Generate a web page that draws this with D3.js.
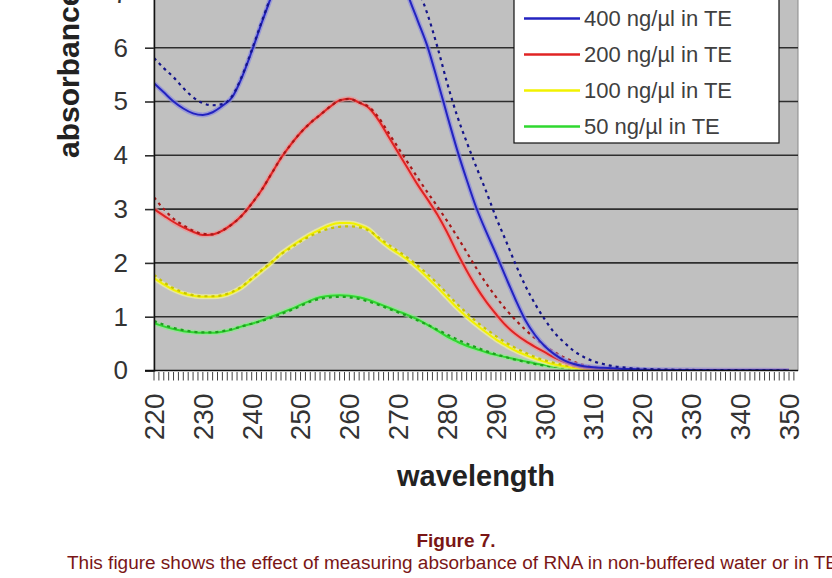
<!DOCTYPE html>
<html>
<head>
<meta charset="utf-8">
<script src="https://cdn.jsdelivr.net/npm/d3@7"></script>
<style>
  body { margin: 0; background: #fff; }
  svg { display: block; font-family: "Liberation Sans", Arial, sans-serif; }
</style>
</head>
<body>
<svg id="chart" width="832" height="578"></svg>
<script>
// wavelength (nm) and absorbance
var wavelength = [220,222,224,226,228,230,232,234,236,238,
    240,242,244,246,248,250,252,254,256,258,
    260,262,264,266,268,270,272,274,276,278,
    280,282,284,286,288,290,292,294,296,298,
    300,302,304,306,308,310,312,314,316,318,
    320,330,340,350];

var te400 = [5.34,5.17,5.0,4.87,4.78,4.75,4.8,4.92,5.08,5.45,
    5.93,6.45,6.95,7.45,7.95,8.45,8.92,9.35,9.7,9.95,
    10.05,9.75,9.35,8.85,8.25,7.6,6.98,6.5,6.02,5.4,
    4.75,4.12,3.55,3.02,2.58,2.17,1.74,1.32,0.94,0.66,
    0.45,0.3,0.19,0.12,0.08,0.06,0.05,0.04,0.03,0.03,
    0.02,0.01,0.005,0];
var water400 = [5.81,5.62,5.45,5.25,5.08,4.97,4.93,4.95,5.1,5.47,
    5.95,6.47,6.97,7.47,7.97,8.47,8.95,9.4,9.8,10.05,
    10.15,9.95,9.65,9.2,8.65,8.05,7.5,7.1,6.62,6.02,
    5.35,4.75,4.25,3.78,3.33,2.85,2.42,1.98,1.58,1.24,
    0.95,0.7,0.52,0.36,0.25,0.17,0.12,0.08,0.06,0.04,
    0.03,0.01,0.005,0];
var te200 = [3.0,2.88,2.76,2.66,2.58,2.52,2.53,2.6,2.72,2.88,
    3.1,3.35,3.65,3.95,4.2,4.42,4.6,4.75,4.9,5.02,
    5.05,4.98,4.88,4.65,4.35,4.05,3.75,3.45,3.18,2.9,
    2.57,2.2,1.86,1.55,1.28,1.05,0.84,0.68,0.55,0.44,
    0.34,0.24,0.16,0.1,0.06,0.04,0.03,0.02,0.01,0.01,
    0,0,0,0];
var water200 = [3.22,3.0,2.82,2.7,2.6,2.54,2.53,2.6,2.72,2.88,
    3.1,3.35,3.65,3.95,4.2,4.42,4.6,4.75,4.9,5.02,
    5.05,4.98,4.9,4.7,4.42,4.14,3.86,3.58,3.31,3.05,
    2.78,2.5,2.2,1.9,1.62,1.37,1.14,0.94,0.76,0.6,
    0.46,0.34,0.24,0.16,0.1,0.06,0.04,0.03,0.02,0.01,
    0.01,0,0,0];
var te100 = [1.72,1.6,1.5,1.43,1.39,1.37,1.37,1.39,1.45,1.55,
    1.7,1.85,2.0,2.17,2.3,2.42,2.53,2.62,2.7,2.74,
    2.74,2.7,2.62,2.45,2.3,2.18,2.05,1.9,1.73,1.55,
    1.36,1.17,1.0,0.85,0.71,0.58,0.47,0.37,0.29,0.22,
    0.16,0.11,0.08,0.05,0.03,0.02,0.01,0.01,0,0,
    0,0,0,0];
var water100 = [1.78,1.64,1.53,1.45,1.4,1.38,1.38,1.4,1.46,1.56,
    1.71,1.86,2.01,2.16,2.28,2.4,2.5,2.58,2.64,2.67,
    2.68,2.66,2.6,2.47,2.34,2.22,2.09,1.95,1.79,1.62,
    1.43,1.24,1.07,0.91,0.77,0.64,0.52,0.42,0.33,0.25,
    0.19,0.14,0.1,0.07,0.05,0.03,0.02,0.01,0.01,0,
    0,0,0,0];
var te50 = [0.88,0.82,0.77,0.73,0.71,0.7,0.7,0.72,0.76,0.82,
    0.87,0.93,1.0,1.07,1.14,1.22,1.3,1.36,1.39,1.4,
    1.39,1.36,1.31,1.24,1.17,1.1,1.03,0.95,0.85,0.74,
    0.63,0.54,0.46,0.4,0.34,0.29,0.25,0.21,0.17,0.13,
    0.1,0.07,0.05,0.03,0.02,0.01,0.01,0,0,0,
    0,0,0,0];
var water50 = [0.92,0.85,0.79,0.75,0.72,0.71,0.71,0.73,0.77,0.82,
    0.87,0.92,0.98,1.05,1.12,1.2,1.28,1.33,1.36,1.37,
    1.36,1.33,1.28,1.22,1.15,1.08,1.01,0.93,0.85,0.76,
    0.67,0.58,0.5,0.43,0.36,0.3,0.25,0.2,0.16,0.12,
    0.09,0.07,0.05,0.03,0.02,0.01,0.01,0,0,0,
    0,0,0,0];

var legendLabels = ["400 ng/\u00b5l in TE", "200 ng/\u00b5l in TE", "100 ng/\u00b5l in TE", "50 ng/\u00b5l in TE"];
var xTickLabels = [220,230,240,250,260,270,280,290,300,310,320,330,340,350];
var yTickLabels = [0,1,2,3,4,5,6,7];

var series = [
    {name: legendLabels[3], te: te50,  water: water50,  color: "#2fd82f", halo: "#8ee88e", dark: "#1f9f1f"},
    {name: legendLabels[2], te: te100, water: water100, color: "#f2f200", halo: "#f6f690", dark: "#c8c400"},
    {name: legendLabels[1], te: te200, water: water200, color: "#e02424", halo: "#f09090", dark: "#a81818"},
    {name: legendLabels[0], te: te400, water: water400, color: "#2323c0", halo: "#8a8ae0", dark: "#15158a"}
];

var plotLeft = 154, plotRight = 798;

var x = d3.scaleLinear()
    .domain([220, 350])
    .range([154, 789]);
var y = d3.scaleLinear()
    .domain([0, 12])
    .range([370.5, 370.5 - 12 * 53.8]);

var svg = d3.select("#chart");

// plot area
svg.append("rect")
    .attr("x", plotLeft)
    .attr("y", y(12))
    .attr("width", plotRight - plotLeft)
    .attr("height", y(0) - y(12))
    .attr("fill", "#c0c0c0")
    .attr("stroke", "#8a8a8a")
    .attr("stroke-width", 1);

// gridlines
svg.selectAll(".grid").data(d3.range(1, 13)).enter().append("line")
    .attr("class", "grid")
    .attr("x1", plotLeft).attr("x2", plotRight)
    .attr("y1", function(d) { return y(d); })
    .attr("y2", function(d) { return y(d); })
    .attr("stroke", "#2e2e2e")
    .attr("stroke-width", 1.6);

// curves
var line = d3.line()
    .x(function(d) { return x(d[0]); })
    .y(function(d) { return y(d[1]); })
    .curve(d3.curveMonotoneX);

svg.append("clipPath").attr("id", "plotclip").append("rect")
    .attr("x", plotLeft).attr("y", y(12))
    .attr("width", plotRight - plotLeft).attr("height", y(0) - y(12));

var curves = svg.append("g").attr("clip-path", "url(#plotclip)");

series.forEach(function(s) {
    var teData = d3.zip(wavelength, s.te);
    var waterData = d3.zip(wavelength, s.water);
    curves.append("path").datum(teData)
        .attr("d", line)
        .attr("fill", "none")
        .attr("stroke", s.halo)
        .attr("stroke-width", 5)
        .attr("stroke-opacity", 0.7);
    curves.append("path").datum(teData)
        .attr("d", line)
        .attr("fill", "none")
        .attr("stroke", s.color)
        .attr("stroke-width", 2);
    curves.append("path").datum(waterData)
        .attr("d", line)
        .attr("fill", "none")
        .attr("stroke", s.dark)
        .attr("stroke-width", 2.2)
        .attr("stroke-dasharray", "3,4");
});

// y axis
var yAxis = d3.axisLeft(y)
    .tickValues(yTickLabels)
    .tickSize(9)
    .tickPadding(17)
    .tickFormat(d3.format("d"));

var yg = svg.append("g")
    .attr("transform", "translate(" + plotLeft + ",0)")
    .call(yAxis);
yg.select(".domain").attr("stroke", "#111").attr("stroke-width", 1.5);
yg.selectAll(".tick line").attr("stroke", "#2e2e2e").attr("stroke-width", 1.6);
yg.selectAll(".tick text")
    .attr("font-size", 26)
    .attr("font-family", "Liberation Sans, Arial, sans-serif")
    .attr("fill", "#333");

// x axis line and minor ticks (one per nm)
svg.append("line")
    .attr("x1", plotLeft - 9).attr("x2", plotRight)
    .attr("y1", y(0)).attr("y2", y(0))
    .attr("stroke", "#111")
    .attr("stroke-width", 1.5);

svg.selectAll(".xtick").data(d3.range(220, 352)).enter().append("line")
    .attr("class", "xtick")
    .attr("x1", function(d) { return x(d); })
    .attr("x2", function(d) { return x(d); })
    .attr("y1", y(0) + 1.5)
    .attr("y2", y(0) + 10)
    .attr("stroke", "#444")
    .attr("stroke-width", 1);

svg.selectAll(".xlabel").data(xTickLabels).enter().append("text")
    .attr("class", "xlabel")
    .attr("transform", function(d) { return "translate(" + x(d) + "," + (y(0) + 23) + ") rotate(-90)"; })
    .attr("dy", "0.35em")
    .attr("text-anchor", "end")
    .attr("font-size", 28)
    .attr("fill", "#333")
    .text(function(d) { return d; });

// axis titles
svg.append("text")
    .attr("transform", "translate(79,158) rotate(-90)")
    .attr("text-anchor", "start")
    .attr("font-size", 30)
    .attr("font-weight", "bold")
    .attr("fill", "#222")
    .text("absorbance");

svg.append("text")
    .attr("x", 476)
    .attr("y", 486)
    .attr("text-anchor", "middle")
    .attr("font-size", 29)
    .attr("font-weight", "bold")
    .attr("fill", "#222")
    .text("wavelength");

// legend (top of the box is cut off in the figure)
var legend = svg.append("g");
legend.append("rect")
    .attr("x", 514).attr("y", -60)
    .attr("width", 265).attr("height", 203)
    .attr("fill", "#fff")
    .attr("stroke", "#111")
    .attr("stroke-width", 1.2);

var rows = legend.selectAll(".lrow").data(series.slice().reverse()).enter().append("g")
    .attr("class", "lrow")
    .attr("transform", function(d, i) { return "translate(0," + (18.5 + i * 36) + ")"; });
rows.append("line")
    .attr("x1", 524).attr("x2", 580)
    .attr("stroke", function(d) { return d.color; })
    .attr("stroke-width", 2.5);
rows.append("text")
    .attr("x", 584)
    .attr("dy", "0.35em")
    .attr("font-size", 22)
    .attr("fill", "#404040")
    .text(function(d) { return d.name; });

// caption
svg.append("text")
    .attr("x", 456)
    .attr("y", 547)
    .attr("text-anchor", "middle")
    .attr("font-size", 19)
    .attr("font-weight", "bold")
    .attr("fill", "#7a1616")
    .text("Figure 7.");

svg.append("text")
    .attr("x", 67)
    .attr("y", 569)
    .attr("font-size", 18)
    .attr("fill", "#7a1616")
    .attr("textLength", 771)
    .attr("lengthAdjust", "spacingAndGlyphs")
    .text("This figure shows the effect of measuring absorbance of RNA in non-buffered water or in TE");
</script>
</body>
</html>
